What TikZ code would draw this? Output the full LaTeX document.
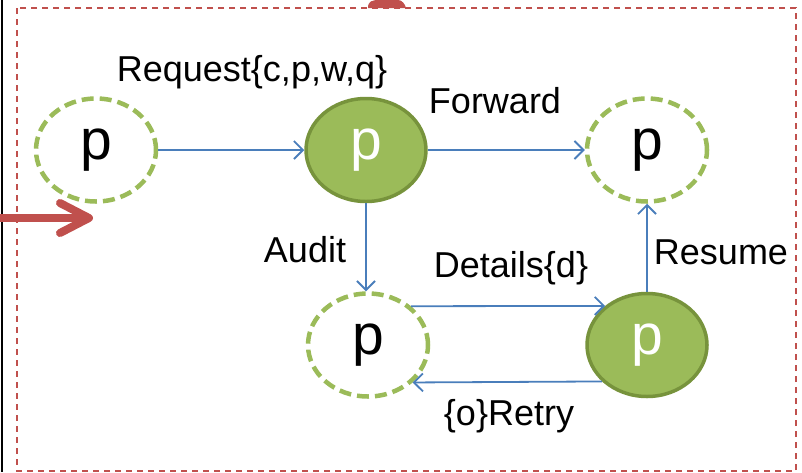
\documentclass[tikz,border=0pt]{standalone}
\usepackage{fontspec}
\setmainfont{Liberation Sans}
\usetikzlibrary{shapes.geometric,arrows.meta}
\definecolor{frame}{HTML}{C0504D}
\definecolor{leaf}{HTML}{9BBB59}
\definecolor{leafdark}{HTML}{77933C}
\definecolor{flow}{HTML}{4A7EBB}
\tikzset{
  state/.style={ellipse, minimum width=120pt, minimum height=103pt, inner sep=0pt,
    font=\fontsize{57}{60}\selectfont},
  idle/.style={state, draw=leaf, line width=4.5pt, dash pattern=on 12pt off 6pt},
  busy/.style={state, draw=leafdark, fill=leaf, line width=3.5pt, text=white},
  msg/.style={draw=flow, line width=1.8pt, -{Straight Barb[length=9pt,width=18pt,line width=1.8pt]}},
  lbl/.style={font=\fontsize{36}{40}\selectfont, inner sep=0pt},
}
\begin{document}
\begin{tikzpicture}[x=1pt,y=-1pt]
  \useasboundingbox (0,0) rectangle (802,472);
  % outer frame lines
  \draw[line width=2pt] (2,0) -- (2,472);
  \draw[frame, line width=2pt, dash pattern=on 6pt off 5pt] (17,8) rectangle (796,471);
  % entry marker at the top edge
  \fill[frame] (368,8) .. controls (368,1) and (372,0) .. (380,0) -- (398,0)
    .. controls (402,0) and (405,4) .. (406,8) -- cycle;
  % entry arrow on the left
  \coordinate (in0) at (0,218);
  \coordinate (in1) at (86,218);
  \coordinate (inA) at (60,203);
  \coordinate (inB) at (60,233);
  \draw[frame, line width=8pt] (in0) -- (in1);
  \draw[frame, line width=8pt, line cap=round, line join=round] (inA) -- (89,218) -- (inB);

  % states
  \node[idle] (A) at (96,150) {p};
  \node[busy] (B) at (366,150) {p};
  \node[idle] (C) at (647,150) {p};
  \node[idle] (D) at (368,345) {p};
  \node[busy] (E) at (647,345) {p};

  % messages
  \draw[msg] (A.east) -- (B.west);
  \draw[msg] (B.east) -- (C.west);
  \draw[msg] (B.south) -- (B.south |- D.north);
  \draw[msg] (D.42.6) -- (E.137.4);
  \draw[msg] (E.219.5) -- (D.320.5);
  \draw[msg] (E.north) -- (E.north |- C.south);

  % labels
  \node[lbl] (lreq) at (252,72) {Request\{c,p,w,q\}};
  \node[lbl] (lfwd) at (495,101) {Forward};
  \node[lbl] (laud) at (305,250) {Audit};
  \node[lbl] (ldet) at (511,268) {Details\{d\}};
  \node[lbl] (lres) at (721,252) {Resume};
  \node[lbl] (lret) at (509,416) {\{o\}Retry};
\end{tikzpicture}
\end{document}
